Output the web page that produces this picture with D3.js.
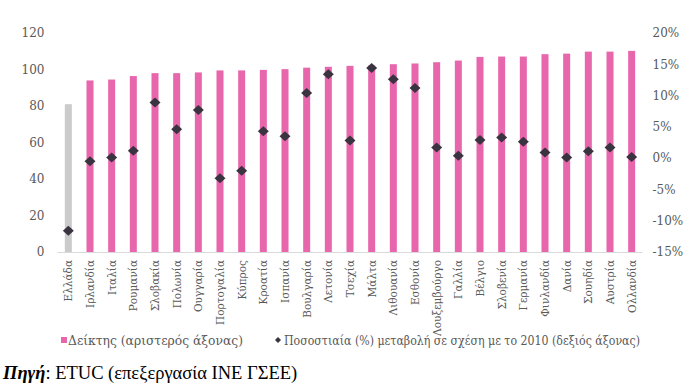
<!DOCTYPE html>
<html>
<head>
<meta charset="utf-8">
<script src="https://cdn.jsdelivr.net/npm/d3@7"></script>
<style>
	body { margin: 0; background: #fff; }
	svg text { font-family: "DejaVu Serif", "Liberation Serif", serif; }
	svg text.source { font-family: "Liberation Serif", "Times New Roman", serif; }
</style>
</head>
<body>
<svg id="chart" width="700" height="387"></svg>
<script>
"use strict";

var countries = ['Ελλάδα','Ιρλανδία','Ιταλία','Ρουμανία','Σλοβακία','Πολωνία','Ουγγαρία','Πορτογαλία','Κύπρος','Κροατία','Ισπανία','Βουλγαρία','Λετονία','Τσεχία','Μάλτα','Λιθουανία','Εσθονία','Λουξεμβούργο','Γαλλία','Βέλγιο','Σλοβενία','Γερμανία','Φινλανδία','Δανία','Σουηδία','Αυστρία','Ολλανδία'];
var indexValues = [81, 94, 94.5, 96.4, 98, 98, 98.4, 99.5, 99.5, 99.8, 100.2, 101, 101.5, 102, 102.2, 102.9, 103.3, 104, 104.9, 106.9, 107.1, 107.1, 108.4, 108.7, 109.8, 109.8, 110.2];
var pctChange = [-11.6, -0.5, 0.1, 1.2, 8.9, 4.6, 7.7, -3.2, -2.0, 4.3, 3.5, 10.4, 13.4, 2.8, 14.4, 12.6, 11.2, 1.7, 0.4, 2.9, 3.3, 2.6, 0.9, 0.1, 1.1, 1.7, 0.2];
var leftTicks = [0, 20, 40, 60, 80, 100, 120];
var rightTicks = [-15, -10, -5, 0, 5, 10, 15, 20];

+function(d3){

	var colors = {
		pink: '#e866ac',
		grey: '#cbcbcb',
		marker: '#3a3340',
		axisLine: '#d9d9d9',
		text: '#595959'
	};

	var svg = d3.select('#chart');
	var plotTop = 33, plotBottom = 252, plotLeft = 57.5, plotRight = 642.5;

	var x = d3.scaleBand().domain(countries).range([plotLeft, plotRight]);
	var yL = d3.scaleLinear().domain([0, 120]).range([plotBottom, plotTop]);
	var yR = d3.scaleLinear().domain([-15, 20]).range([plotBottom, plotTop]);
	var barW = 7;

	// left axis labels
	var axL = svg.append('g').attr('transform', 'translate(' + plotLeft + ',0)')
		.call(d3.axisLeft(yL).tickValues(leftTicks).tickSize(0).tickPadding(13));
	axL.select('.domain').remove();
	axL.selectAll('text').attr('font-size', 12).attr('fill', colors.text);

	// right axis labels
	var axR = svg.append('g').attr('transform', 'translate(' + plotRight + ',0)')
		.call(d3.axisRight(yR).tickValues(rightTicks).tickSize(0).tickPadding(10)
			.tickFormat(function(d){ return d + '%'; }));
	axR.select('.domain').remove();
	axR.selectAll('text').attr('font-size', 12).attr('fill', colors.text);

	// bars
	svg.append('g').selectAll('rect')
		.data(countries)
		.enter().append('rect')
		.attr('x', function(d){ return x(d) + x.bandwidth() / 2 - barW / 2; })
		.attr('width', barW)
		.attr('y', function(d, i){ return yL(indexValues[i]); })
		.attr('height', function(d, i){ return plotBottom - yL(indexValues[i]); })
		.attr('fill', function(d, i){ return i === 0 ? colors.grey : colors.pink; });

	// baseline
	svg.append('line')
		.attr('x1', plotLeft).attr('x2', plotRight)
		.attr('y1', plotBottom + 0.5).attr('y2', plotBottom + 0.5)
		.attr('stroke', colors.axisLine).attr('stroke-width', 1);

	// x labels
	svg.append('g').selectAll('text')
		.data(countries)
		.enter().append('text')
		.attr('transform', function(d){
			return 'translate(' + (x(d) + x.bandwidth() / 2 + 4) + ',' + (plotBottom + 8) + ') rotate(-90)';
		})
		.attr('text-anchor', 'end')
		.attr('font-size', 10.5)
		.attr('fill', colors.text)
		.text(function(d){ return d; });

	// diamonds
	var diamond = 'M0,-5 L5.5,0 L0,5 L-5.5,0 Z';
	svg.append('g').selectAll('path')
		.data(countries)
		.enter().append('path')
		.attr('d', diamond)
		.attr('transform', function(d, i){
			return 'translate(' + (x(d) + x.bandwidth() / 2) + ',' + yR(pctChange[i]) + ')';
		})
		.attr('fill', colors.marker);

	// legend
	var legend = svg.append('g');
	legend.append('rect').attr('x', 61).attr('y', 337).attr('width', 6).attr('height', 6).attr('fill', colors.pink);
	legend.append('text').attr('x', 68).attr('y', 344.5).attr('font-size', 12).attr('fill', colors.text)
		.attr('textLength', 175).attr('lengthAdjust', 'spacingAndGlyphs')
		.text('Δείκτης (αριστερός άξονας)');
	legend.append('path').attr('d', 'M0,-3 L3,0 L0,3 L-3,0 Z').attr('transform', 'translate(278,340)').attr('fill', colors.marker);
	legend.append('text').attr('x', 284).attr('y', 344.5).attr('font-size', 12).attr('fill', colors.text)
		.attr('textLength', 356).attr('lengthAdjust', 'spacingAndGlyphs')
		.text('Ποσοστιαία (%) μεταβολή σε σχέση με το 2010 (δεξιός άξονας)');

	// source
	var src = svg.append('text').attr('class', 'source').attr('x', 3).attr('y', 379)
		.attr('font-size', 18.5).attr('fill', '#000');
	src.append('tspan').attr('font-weight', 'bold').attr('font-style', 'italic').text('Πηγή');
	src.append('tspan').text(': ETUC (επεξεργασία ΙΝΕ ΓΣΕΕ)');

}(d3);
</script>
</body>
</html>
